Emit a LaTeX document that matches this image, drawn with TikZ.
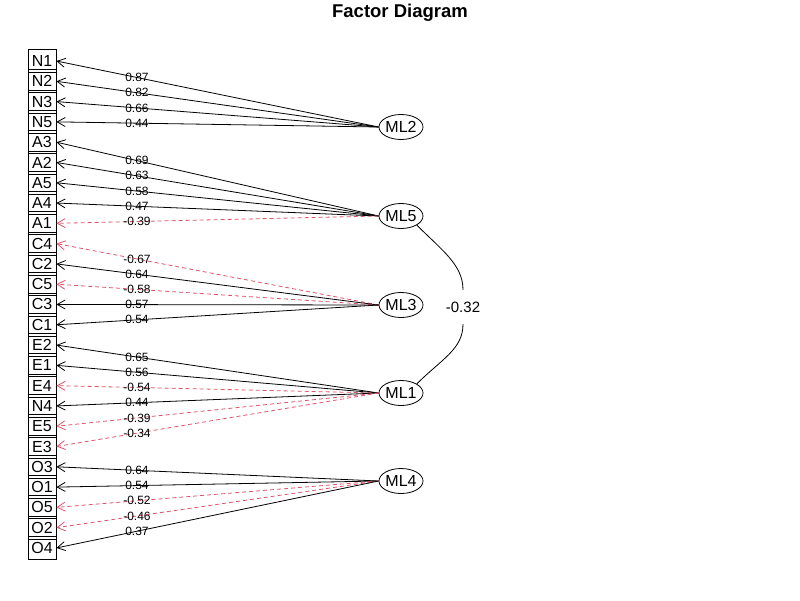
\documentclass[tikz,border=0pt]{standalone}
\usepackage{fontspec}
\setmainfont{Liberation Sans}
\usetikzlibrary{shapes.geometric,arrows.meta,positioning}
\definecolor{negred}{HTML}{DF536B}

\begin{document}
\begin{tikzpicture}[x=1pt, y=-1pt,
  var/.style={draw, line width=0.8pt, minimum width=28pt, minimum height=23pt, inner sep=0pt, font=\fontsize{16}{16}\selectfont},
  fac/.style={draw, line width=0.8pt, ellipse, minimum width=38pt, minimum height=25pt, inner sep=0pt, font=\fontsize{16}{16}\selectfont},
  posload/.style={-{Straight Barb[length=8pt,width=9pt]}, line width=0.8pt},
  negload/.style={posload, negred, dash pattern=on 4pt off 3pt},
  lbl/.style={pos=0.75, black, font=\fontsize{12}{12}\selectfont, inner sep=0pt}]
  \useasboundingbox (0,0) rectangle (800,600);
  \node[font=\bfseries\fontsize{18.5}{18.5}\selectfont] (title) at (400,13) {Factor Diagram};

  % observed variables
  \foreach \v [count=\i from 0] in {N1,N2,N3,N5,A3,A2,A5,A4,A1,C4,C2,C5,C3,C1,E2,E1,E4,N4,E5,E3,O3,O1,O5,O2,O4}
    \node[var] (\v) at (42,{61+20.29*\i}) {\v};

  % factors
  \node[fac] (ML2) at (401,127) {ML2};
  \node[fac] (ML5) at (401,216) {ML5};
  \node[fac] (ML3) at (401,305) {ML3};
  \node[fac] (ML1) at (401,393) {ML1};
  \node[fac] (ML4) at (401,481) {ML4};

  % loadings
  \draw[posload] (ML2.west) -- (N1.east) node[lbl] {0.87};
  \draw[posload] (ML2.west) -- (N2.east) node[lbl] {0.82};
  \draw[posload] (ML2.west) -- (N3.east) node[lbl] {0.66};
  \draw[posload] (ML2.west) -- (N5.east) node[lbl] {0.44};

  \draw[posload] (ML5.west) -- (A3.east) node[lbl] {0.69};
  \draw[posload] (ML5.west) -- (A2.east) node[lbl] {0.63};
  \draw[posload] (ML5.west) -- (A5.east) node[lbl] {0.58};
  \draw[posload] (ML5.west) -- (A4.east) node[lbl] {0.47};
  \draw[negload] (ML5.west) -- (A1.east) node[lbl] {-0.39};

  \draw[negload] (ML3.west) -- (C4.east) node[lbl] {-0.67};
  \draw[posload] (ML3.west) -- (C2.east) node[lbl] {0.64};
  \draw[negload] (ML3.west) -- (C5.east) node[lbl] {-0.58};
  \draw[posload] (ML3.west) -- (C3.east) node[lbl] {0.57};
  \draw[posload] (ML3.west) -- (C1.east) node[lbl] {0.54};

  \draw[posload] (ML1.west) -- (E2.east) node[lbl] {0.65};
  \draw[posload] (ML1.west) -- (E1.east) node[lbl] {0.56};
  \draw[negload] (ML1.west) -- (E4.east) node[lbl] {-0.54};
  \draw[posload] (ML1.west) -- (N4.east) node[lbl] {0.44};
  \draw[negload] (ML1.west) -- (E5.east) node[lbl] {-0.39};
  \draw[negload] (ML1.west) -- (E3.east) node[lbl] {-0.34};

  \draw[posload] (ML4.west) -- (O3.east) node[lbl] {0.64};
  \draw[posload] (ML4.west) -- (O1.east) node[lbl] {0.54};
  \draw[negload] (ML4.west) -- (O5.east) node[lbl] {-0.52};
  \draw[negload] (ML4.west) -- (O2.east) node[lbl] {-0.46};
  \draw[posload] (ML4.west) -- (O4.east) node[lbl] {0.37};

  % factor correlation
  \node[font=\fontsize{15}{15}\selectfont, minimum height=34pt, inner sep=0pt] (cor) at (463,307) {-0.32};
  \draw[line width=0.8pt] (ML5.-30) .. controls +(25,25) and +(0,-25) .. (cor.north);
  \draw[line width=0.8pt] (cor.south) .. controls +(0,25) and +(25,-25) .. (ML1.30);
\end{tikzpicture}
\end{document}
